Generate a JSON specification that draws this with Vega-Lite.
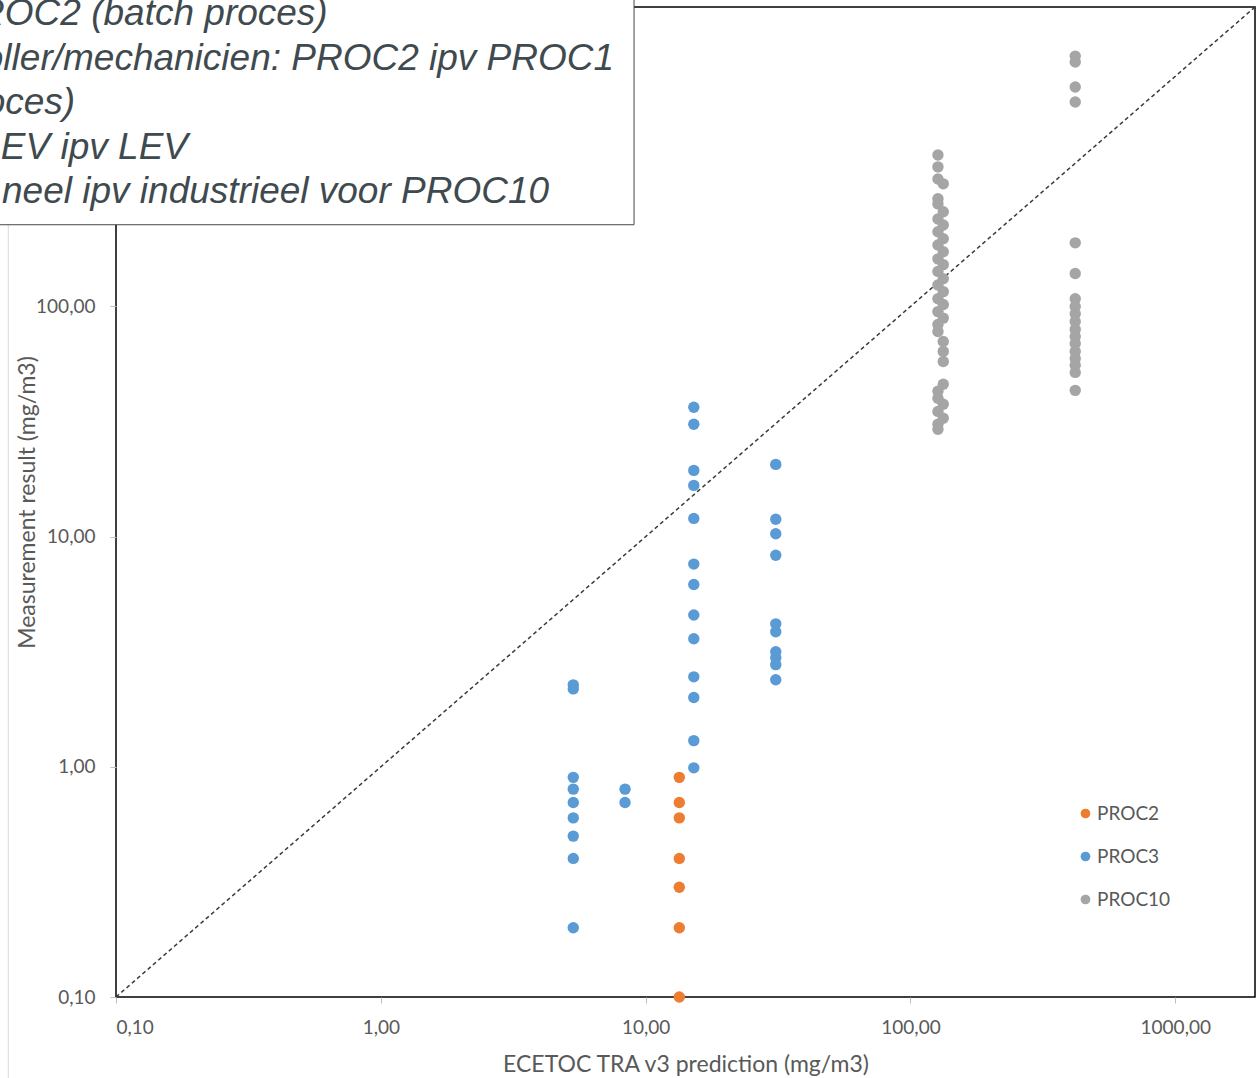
{
  "$schema": "https://vega.github.io/schema/vega-lite/v6.json",
  "autosize": "none",
  "width": 1139,
  "height": 990,
  "padding": {"left": 116, "top": 7, "right": 3, "bottom": 81},
  "background": "white",
  "config": {
    "view": {"stroke": "#000000", "strokeWidth": 1.5},
    "font": "Lato",
    "axis": {"grid": false, "domain": false, "tickColor": "#BFBFBF", "tickSize": 6, "labelFont": "Lato", "labelFontSize": 19, "labelColor": "#595959", "titleFont": "Lato", "titleFontSize": 23, "titleFontWeight": "normal", "titleColor": "#595959"}
  },
  "datasets": {
    "points": [
      {"proc": "PROC2", "pred": 13.4, "meas": 0.9},
      {"proc": "PROC2", "pred": 13.4, "meas": 0.7},
      {"proc": "PROC2", "pred": 13.4, "meas": 0.6},
      {"proc": "PROC2", "pred": 13.4, "meas": 0.4},
      {"proc": "PROC2", "pred": 13.4, "meas": 0.3},
      {"proc": "PROC2", "pred": 13.4, "meas": 0.2},
      {"proc": "PROC2", "pred": 13.4, "meas": 0.1},
      {"proc": "PROC3", "pred": 5.33, "meas": 2.27},
      {"proc": "PROC3", "pred": 5.33, "meas": 2.18},
      {"proc": "PROC3", "pred": 5.33, "meas": 0.9},
      {"proc": "PROC3", "pred": 5.33, "meas": 0.8},
      {"proc": "PROC3", "pred": 5.33, "meas": 0.7},
      {"proc": "PROC3", "pred": 5.33, "meas": 0.6},
      {"proc": "PROC3", "pred": 5.33, "meas": 0.5},
      {"proc": "PROC3", "pred": 5.33, "meas": 0.4},
      {"proc": "PROC3", "pred": 5.33, "meas": 0.2},
      {"proc": "PROC3", "pred": 8.36, "meas": 0.8},
      {"proc": "PROC3", "pred": 8.36, "meas": 0.7},
      {"proc": "PROC3", "pred": 15.2, "meas": 36.5},
      {"proc": "PROC3", "pred": 15.2, "meas": 30.8},
      {"proc": "PROC3", "pred": 15.2, "meas": 19.4},
      {"proc": "PROC3", "pred": 15.2, "meas": 16.7},
      {"proc": "PROC3", "pred": 15.2, "meas": 12.0},
      {"proc": "PROC3", "pred": 15.2, "meas": 7.6},
      {"proc": "PROC3", "pred": 15.2, "meas": 6.2},
      {"proc": "PROC3", "pred": 15.2, "meas": 4.57},
      {"proc": "PROC3", "pred": 15.2, "meas": 3.6},
      {"proc": "PROC3", "pred": 15.2, "meas": 2.46},
      {"proc": "PROC3", "pred": 15.2, "meas": 2.0},
      {"proc": "PROC3", "pred": 15.2, "meas": 1.3},
      {"proc": "PROC3", "pred": 15.2, "meas": 0.99},
      {"proc": "PROC3", "pred": 31.0, "meas": 20.6},
      {"proc": "PROC3", "pred": 31.0, "meas": 11.9},
      {"proc": "PROC3", "pred": 31.0, "meas": 10.3},
      {"proc": "PROC3", "pred": 31.0, "meas": 8.3},
      {"proc": "PROC3", "pred": 31.0, "meas": 4.18},
      {"proc": "PROC3", "pred": 31.0, "meas": 3.86},
      {"proc": "PROC3", "pred": 31.0, "meas": 3.16},
      {"proc": "PROC3", "pred": 31.0, "meas": 2.98},
      {"proc": "PROC3", "pred": 31.0, "meas": 2.78},
      {"proc": "PROC3", "pred": 31.0, "meas": 2.39},
      {"proc": "PROC10", "pred": 127, "meas": 455},
      {"proc": "PROC10", "pred": 127, "meas": 404},
      {"proc": "PROC10", "pred": 127, "meas": 358},
      {"proc": "PROC10", "pred": 133, "meas": 341},
      {"proc": "PROC10", "pred": 127, "meas": 294},
      {"proc": "PROC10", "pred": 127, "meas": 279},
      {"proc": "PROC10", "pred": 133, "meas": 258},
      {"proc": "PROC10", "pred": 127, "meas": 240},
      {"proc": "PROC10", "pred": 133, "meas": 226},
      {"proc": "PROC10", "pred": 127, "meas": 211},
      {"proc": "PROC10", "pred": 133, "meas": 197},
      {"proc": "PROC10", "pred": 127, "meas": 185},
      {"proc": "PROC10", "pred": 133, "meas": 173},
      {"proc": "PROC10", "pred": 127, "meas": 161},
      {"proc": "PROC10", "pred": 133, "meas": 152},
      {"proc": "PROC10", "pred": 127, "meas": 142},
      {"proc": "PROC10", "pred": 133, "meas": 132},
      {"proc": "PROC10", "pred": 127, "meas": 124},
      {"proc": "PROC10", "pred": 133, "meas": 116},
      {"proc": "PROC10", "pred": 127, "meas": 108},
      {"proc": "PROC10", "pred": 133, "meas": 102},
      {"proc": "PROC10", "pred": 127, "meas": 95},
      {"proc": "PROC10", "pred": 133, "meas": 89},
      {"proc": "PROC10", "pred": 127, "meas": 83.5},
      {"proc": "PROC10", "pred": 127, "meas": 77.8},
      {"proc": "PROC10", "pred": 133, "meas": 70.5},
      {"proc": "PROC10", "pred": 133, "meas": 63.8},
      {"proc": "PROC10", "pred": 133, "meas": 57.7},
      {"proc": "PROC10", "pred": 133, "meas": 45.9},
      {"proc": "PROC10", "pred": 127, "meas": 42.8},
      {"proc": "PROC10", "pred": 127, "meas": 39.9},
      {"proc": "PROC10", "pred": 133, "meas": 37.6},
      {"proc": "PROC10", "pred": 127, "meas": 35.0},
      {"proc": "PROC10", "pred": 133, "meas": 32.7},
      {"proc": "PROC10", "pred": 127, "meas": 30.8},
      {"proc": "PROC10", "pred": 127, "meas": 29.3},
      {"proc": "PROC10", "pred": 419, "meas": 1224},
      {"proc": "PROC10", "pred": 419, "meas": 1153},
      {"proc": "PROC10", "pred": 419, "meas": 898},
      {"proc": "PROC10", "pred": 419, "meas": 773},
      {"proc": "PROC10", "pred": 419, "meas": 189},
      {"proc": "PROC10", "pred": 419, "meas": 139},
      {"proc": "PROC10", "pred": 419, "meas": 108},
      {"proc": "PROC10", "pred": 419, "meas": 100},
      {"proc": "PROC10", "pred": 419, "meas": 93},
      {"proc": "PROC10", "pred": 419, "meas": 86},
      {"proc": "PROC10", "pred": 419, "meas": 79.5},
      {"proc": "PROC10", "pred": 419, "meas": 74},
      {"proc": "PROC10", "pred": 419, "meas": 69},
      {"proc": "PROC10", "pred": 419, "meas": 63.8},
      {"proc": "PROC10", "pred": 419, "meas": 59.4},
      {"proc": "PROC10", "pred": 419, "meas": 55.5},
      {"proc": "PROC10", "pred": 419, "meas": 51.7},
      {"proc": "PROC10", "pred": 419, "meas": 43.2}
    ],
    "notes": [
      {"t": "PROC2 (batch proces)", "x": 0.63, "y": 1862},
      {"t": "oller/mechanicien: PROC2 ipv PROC1", "x": 7.6, "y": 1188},
      {"t": "oces)", "x": 0.0701, "y": 765},
      {"t": "EV ipv LEV", "x": 0.187, "y": 488},
      {"t": "neel ipv industrieel voor PROC10", "x": 4.32, "y": 315}
    ],
    "box": [
      {"x": 0.0335, "x2": 9.04, "y": 226.5, "y2": 2203}
    ]
  },
  "layer": [
    {
      "data": {"values": [{}]},
      "mark": {"type": "rule", "color": "#D9D9D9", "strokeWidth": 1, "clip": false},
      "encoding": {
        "x": {"datum": 0.0392, "type": "quantitative", "scale": {"type": "log", "domain": [0.1, 2000], "nice": false}, "axis": {"values": [0.1, 1, 10, 100, 1000], "labelExpr": "replace(format(datum.value, '.2f'), '.', ',')", "title": "ECETOC TRA v3 prediction (mg/m3)", "labelPadding": 15, "titlePadding": 16}},
        "y": {"datum": 300, "type": "quantitative", "scale": {"type": "log", "domain": [0.1, 2000], "nice": false}, "axis": {"values": [0.1, 1, 10, 100, 1000], "labelExpr": "replace(format(datum.value, '.2f'), '.', ',')", "title": "Measurement result (mg/m3)", "labelPadding": 15, "titlePadding": -15}},
        "y2": {"datum": 0.03}
      }
    },
    {
      "data": {"values": [{}]},
      "mark": {"type": "rule", "color": "#3A3A3A", "strokeDash": [4, 3], "strokeWidth": 1.5},
      "encoding": {
        "x": {"datum": 0.1, "type": "quantitative"},
        "y": {"datum": 0.1, "type": "quantitative"},
        "x2": {"datum": 2000},
        "y2": {"datum": 2000}
      }
    },
    {
      "data": {"name": "points"},
      "mark": {"type": "circle", "size": 130, "opacity": 1},
      "encoding": {
        "x": {"field": "pred", "type": "quantitative"},
        "y": {"field": "meas", "type": "quantitative"},
        "color": {"field": "proc", "type": "nominal", "scale": {"domain": ["PROC2", "PROC3", "PROC10"], "range": ["#ED7D31", "#5B9BD5", "#A5A5A5"]},
          "legend": {"title": null, "orient": "none", "legendX": 960, "legendY": 797, "labelFont": "Lato", "labelFontSize": 19, "labelColor": "#595959", "symbolType": "circle", "symbolSize": 95, "rowPadding": 23, "labelOffset": 2}}
      }
    },
    {
      "data": {"name": "box"},
      "mark": {"type": "rect", "fill": "#FFFFFF", "stroke": "#3F4A4F", "strokeWidth": 1, "clip": false},
      "encoding": {
        "x": {"field": "x", "type": "quantitative"},
        "x2": {"field": "x2"},
        "y": {"field": "y", "type": "quantitative"},
        "y2": {"field": "y2"}
      }
    },
    {
      "data": {"name": "notes"},
      "mark": {"type": "text", "align": "right", "baseline": "middle", "font": "Liberation Sans", "fontStyle": "italic", "fontSize": 37, "color": "#3F4A4F", "clip": false},
      "encoding": {
        "x": {"field": "x", "type": "quantitative"},
        "y": {"field": "y", "type": "quantitative"},
        "text": {"field": "t"}
      }
    }
  ]
}
